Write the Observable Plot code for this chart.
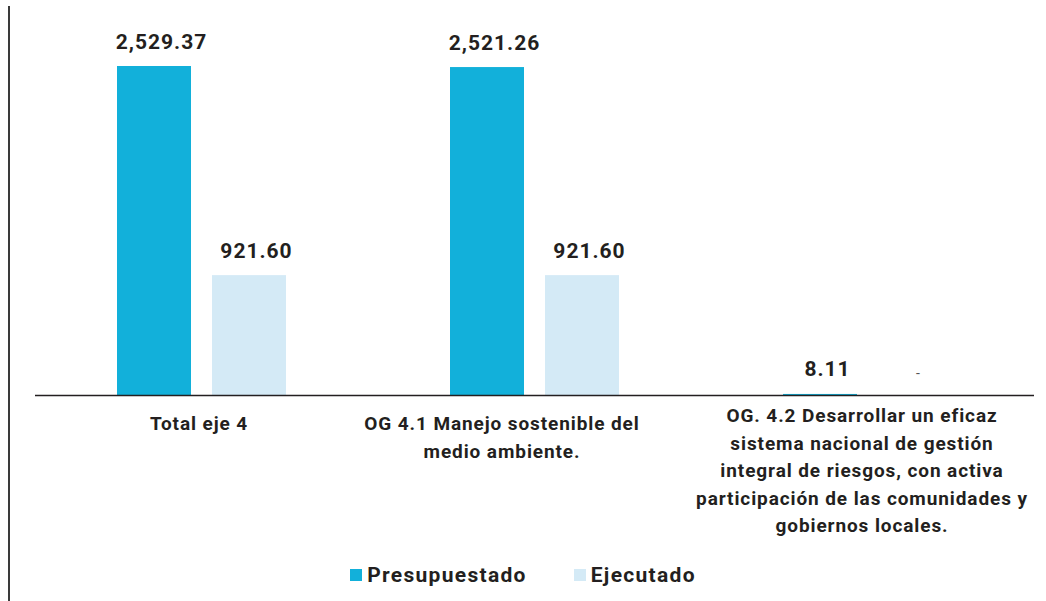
<!DOCTYPE html>
<html><head><meta charset="utf-8">
<script src="https://cdn.jsdelivr.net/npm/d3@7"></script>
<script src="https://cdn.jsdelivr.net/npm/@observablehq/plot@0.6"></script>
<style>
body{margin:0;background:#fff;font-family:Roboto, sans-serif;}
#wrap{position:relative;width:1046px;height:601px;overflow:hidden;}
#vline{position:absolute;left:8px;top:6px;width:2px;height:595px;background:#3a3a3a;}
#legend{position:absolute;top:563px;left:0;width:1046px;display:flex;justify-content:center;align-items:center;font-weight:700;font-size:21px;letter-spacing:1.3px;color:#231f20;}
.item{display:flex;align-items:center;}
.sw{width:12px;height:12px;margin-right:5px;}
#chart svg text{letter-spacing:1px;}
#chart svg g.cat text{letter-spacing:0.9px;}
</style></head>
<body><div id="wrap"><div id="chart"></div><div id="vline"></div><div id="legend"></div></div>
<script>
const categories = ["Total eje 4", "OG 4.1", "OG 4.2"];
const categoryLabels = [
  "Total eje 4",
  "OG 4.1 Manejo sostenible del\nmedio ambiente.",
  "OG. 4.2 Desarrollar un eficaz\nsistema nacional de gestión\nintegral de riesgos, con activa\nparticipación de las comunidades y\ngobiernos locales."
];
const series = ["Presupuestado", "Ejecutado"];
const presupuestado = [2529.37, 2521.26, 8.11];
const ejecutado = [921.60, 921.60, 0];
const colors = ["#12b0da", "#d4eaf6"];

const data = [];
categories.forEach((c, i) => {
  data.push({cat: c, serie: series[0], value: presupuestado[i]});
  data.push({cat: c, serie: series[1], value: ejecutado[i]});
});
const labels = categories.map((c, i) => ({cat: c, label: categoryLabels[i]}));
const fmt = d3.format(",.2f");

// per-category label placement (offsets only, as in the reference)
const labelDx = [-3, -33, -6];
const labelDy = [15, 15, 7];

const chart = Plot.plot({
  width: 1046, height: 545,
  marginLeft: 35, marginRight: 12, marginTop: 66, marginBottom: 150,
  style: {fontFamily: "Roboto, sans-serif", background: "transparent"},
  fx: {domain: categories, padding: 0, axis: null},
  x: {domain: series, paddingInner: 0.221, paddingOuter: 0.863, axis: null},
  y: {domain: [0, d3.max(presupuestado)], axis: null},
  color: {domain: series, range: colors},
  marks: [
    Plot.barY(data, {fx: "cat", x: "serie", y: "value", fill: "serie"}),
    Plot.ruleY([0], {stroke: "#231f20", strokeWidth: 1.5}),
    Plot.text(data.filter(d => d.value > 0), {fx: "cat", x: "serie", y: "value", text: d => fmt(d.value),
      dy: -18, dx: 7, lineAnchor: "bottom", fontSize: 21, fontWeight: 700, fill: "#231f20"}),
    Plot.text(data.filter(d => d.value === 0), {fx: "cat", x: "serie", y: "value", text: () => "-",
      dy: -22, dx: 3, fontSize: 14, fill: "#555"}),
    ...labels.map((l, i) => Plot.text([l], {fx: "cat", y: 0, text: "label", lineAnchor: "top",
      dx: labelDx[i], dy: labelDy[i], fontSize: 19, fontWeight: 700, lineHeight: 1.45, fill: "#231f20", className: "cat"}))
  ]
});
document.getElementById("chart").appendChild(chart);

const legend = document.getElementById("legend");
series.forEach((s, i) => {
  const it = document.createElement("div");
  it.className = "item";
  if (i > 0) it.style.marginLeft = "47px";
  const sw = document.createElement("div");
  sw.className = "sw"; sw.style.background = colors[i];
  const t = document.createElement("span"); t.textContent = s;
  it.appendChild(sw); it.appendChild(t);
  legend.appendChild(it);
});
</script></body></html>
